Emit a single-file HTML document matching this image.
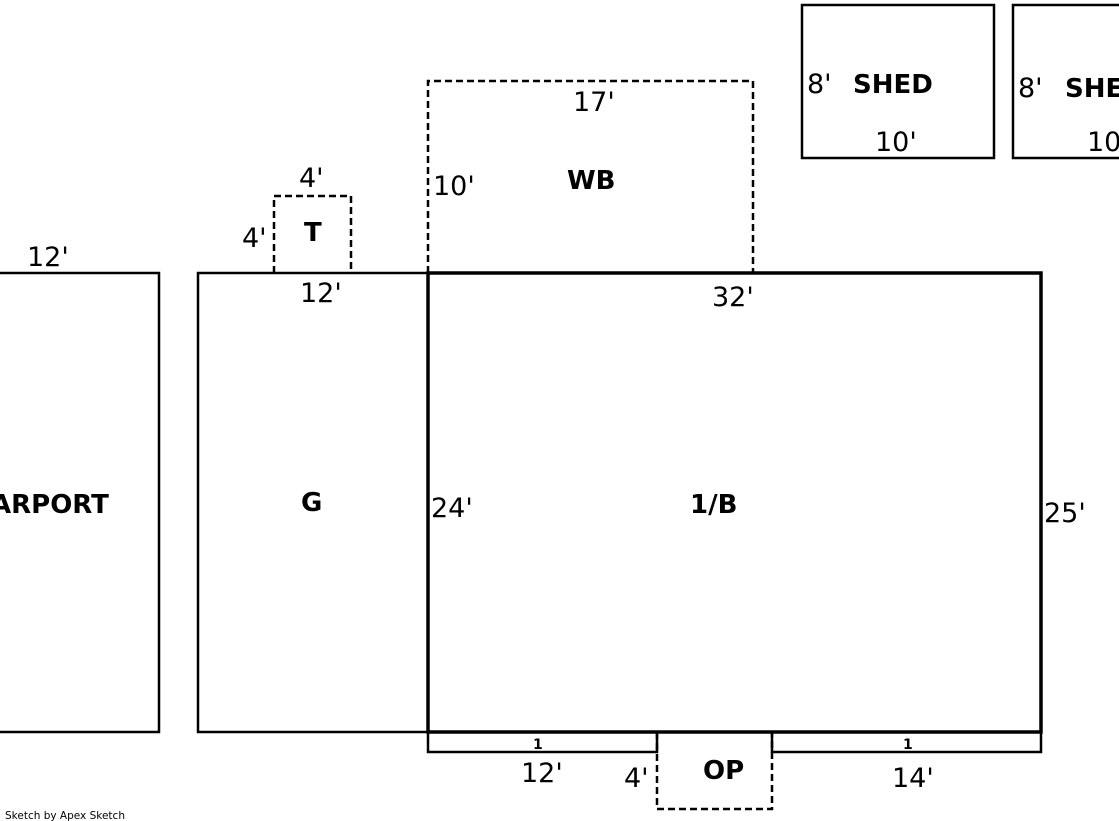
<!DOCTYPE html>
<html><head><style>
html,body{margin:0;padding:0;background:#fff;width:1119px;height:821px;overflow:hidden}
svg{display:block}
text{font-family:"DejaVu Sans","Liberation Sans",sans-serif;fill:#000}
.d{font-size:27px}
.b{font-size:26px;font-weight:bold}
</style></head><body>
<svg width="1119" height="821" viewBox="0 0 1119 821" xmlns="http://www.w3.org/2000/svg">
<g fill="none" stroke="#000" stroke-width="2.5">
<rect x="-50" y="273" width="209" height="459"/>
<rect x="198" y="273" width="230" height="459"/>
<rect x="802" y="5" width="192" height="153"/>
<rect x="1013" y="5" width="130" height="153"/>
<polyline points="428,732 428,752 657,752 657,732"/>
<polyline points="772,732 772,752 1041,752 1041,732"/>
</g>
<rect x="428" y="273" width="613" height="459" fill="none" stroke="#000" stroke-width="3.5"/>
<g fill="none" stroke="#000" stroke-width="2.5" stroke-dasharray="7,4">
<polyline points="428,273 428,81 753,81 753,273"/>
<polyline points="274,273 274,196 351,196 351,273"/>
<polyline points="657,732 657,809 772,809 772,732"/>
</g>
<text class="d" x="27" y="266">12'</text>
<text class="b" x="-9" y="513">ARPORT</text>
<text class="b" x="301" y="511">G</text>
<text class="d" x="299" y="187">4'</text>
<text class="d" x="242" y="247">4'</text>
<text class="b" x="304" y="241">T</text>
<text class="d" x="300" y="302">12'</text>
<text class="d" x="573" y="111">17'</text>
<text class="d" x="433" y="195">10'</text>
<text class="b" x="567" y="189">WB</text>
<text class="d" x="712" y="306">32'</text>
<text class="d" x="431" y="517">24'</text>
<text class="b" x="690" y="513">1/B</text>
<text class="d" x="1044" y="522">25'</text>
<text x="533" y="749" style="font-size:14px;font-weight:bold">1</text>
<text x="903" y="749" style="font-size:14px;font-weight:bold">1</text>
<text class="d" x="521" y="782">12'</text>
<text class="d" x="624" y="787">4'</text>
<text class="b" x="703" y="779">OP</text>
<text class="d" x="892" y="787">14'</text>
<text class="d" x="807" y="93">8'</text>
<text class="b" x="853" y="93">SHED</text>
<text class="d" x="875" y="151">10'</text>
<text class="d" x="1018" y="97">8'</text>
<text class="b" x="1065" y="97">SHED</text>
<text class="d" x="1087" y="151">10'</text>
<text x="5" y="819" style="font-size:10.5px">Sketch by Apex Sketch</text>
</svg>
</body></html>
